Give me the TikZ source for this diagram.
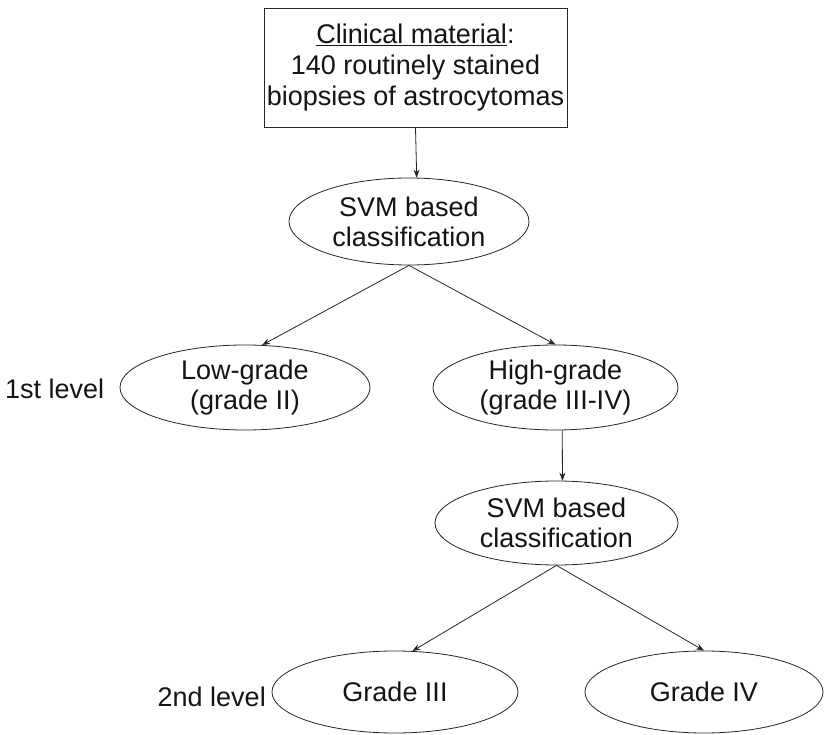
\documentclass[tikz,border=0pt]{standalone}
\usepackage{fontspec}
\setmainfont{Liberation Sans}
\usetikzlibrary{arrows.meta,shapes.geometric}
\begin{document}
\begin{tikzpicture}[x=1pt,y=-1pt,
  every node/.style={text=black!92, font=\fontsize{27}{30}\selectfont},
  ell/.style={draw=black!85, ellipse, inner sep=0pt, align=center, line width=0.8pt},
  conn/.style={draw=black!85, -{Stealth[length=8pt,width=6pt]}, line width=0.8pt},
  lbl/.style={inner sep=0pt}]
\useasboundingbox[fill=white] (0,0) rectangle (825,735);
\node[draw=black!85, line width=0.9pt, minimum width=303pt, minimum height=119pt, inner sep=0pt, align=center, font=\fontsize{27}{31}\selectfont] (box) at (415.5,68) {\underline{Clinical material}:\\140 routinely stained\\biopsies of astrocytomas};
\node[ell, minimum width=240pt, minimum height=87pt] (e1) at (409,221.5) {SVM based\\classification};
\node[ell, minimum width=250pt, minimum height=85pt] (lg) at (245,387.5) {Low-grade\\(grade II)};
\node[ell, minimum width=245pt, minimum height=85pt] (hg) at (555.5,387.5) {High-grade\\(grade III-IV)};
\node[ell, minimum width=243pt, minimum height=84pt] (svm2) at (556.5,523) {SVM based\\classification};
\node[ell, minimum width=246pt, minimum height=82pt] (g3) at (395,692) {Grade III};
\node[ell, minimum width=238pt, minimum height=82pt] (g4) at (704,692) {Grade IV};
\node[lbl, anchor=west] (l1) at (5,389) {1st level};
\node[lbl, anchor=east] (l2) at (266,697) {2nd level};
\draw[conn] (box.south) -- (e1.80);
\draw[conn] (e1.south) -- (lg.68);
\draw[conn] (e1.south) -- (hg.north);
\draw[conn] (hg.-81) -- (svm2.82);
\draw[conn] (svm2.south) -- (g3.67);
\draw[conn] (svm2.south) -- (g4.north);
\end{tikzpicture}
\end{document}
